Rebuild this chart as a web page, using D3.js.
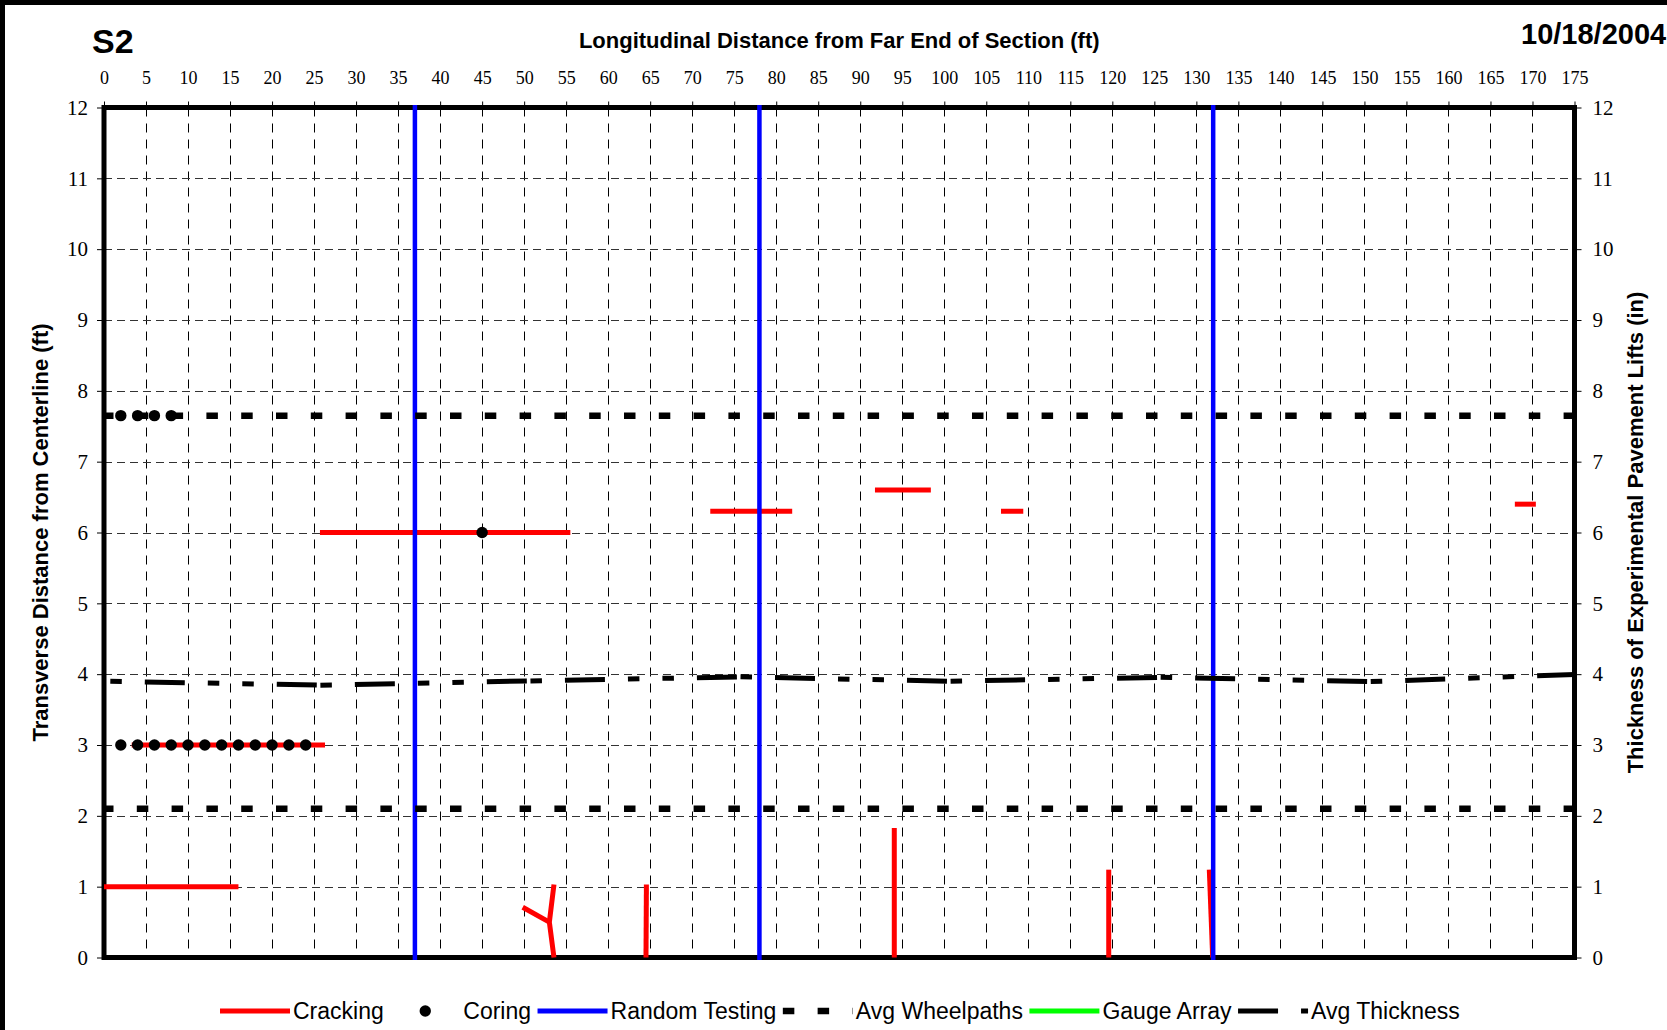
<!DOCTYPE html>
<html>
<head>
<meta charset="utf-8">
<title>S2 distress map</title>
<script src="https://cdn.jsdelivr.net/npm/d3@7"></script>
<style>
  html, body { margin: 0; padding: 0; background: #fff; }
  svg { display: block; }
</style>
</head>
<body>
<svg id="chart" width="1667" height="1030"></svg>
<script>
// ---- data -------------------------------------------------------------
const sectionName = "S2";
const surveyDate = "10/18/2004";

const xTickValues = [0, 5, 10, 15, 20, 25, 30, 35, 40, 45, 50, 55, 60, 65, 70, 75, 80, 85,
  90, 95, 100, 105, 110, 115, 120, 125, 130, 135, 140, 145, 150, 155, 160, 165, 170, 175];
const yTickValues = [0, 1, 2, 3, 4, 5, 6, 7, 8, 9, 10, 11, 12];

// Crack traces: each is a polyline of [longitudinal ft, transverse ft]
const crackLines = [
  [[0, 1], [16, 1]],
  [[3.3, 3], [26.3, 3]],
  [[25.7, 6], [55.5, 6]],
  [[72.15, 6.3], [81.9, 6.3]],
  [[91.75, 6.6], [98.4, 6.6]],
  [[106.75, 6.3], [109.4, 6.3]],
  [[167.9, 6.4], [170.4, 6.4]],
  [[53.55, 1.03], [53.0, 0.5], [53.55, 0]],
  [[49.83, 0.71], [53.0, 0.5]],
  [[64.55, 1.03], [64.5, 0]],
  [[94.05, 1.83], [94.05, 0]],
  [[119.57, 1.24], [119.57, 0]],
  [[131.54, 1.24], [131.94, 0]]
];

// Core locations
const coringX = [2, 4, 6, 8, 2, 4, 6, 8, 10, 12, 14, 16, 18, 20, 22, 24, 45];
const coringY = [7.65, 7.65, 7.65, 7.65, 3, 3, 3, 3, 3, 3, 3, 3, 3, 3, 3, 3, 6];

// Random testing stations (ft)
const randomTestingX = [37, 78, 132];

// Average wheelpath offsets (ft)
const wheelpathY = [7.65, 2.1];

// Gauge array: none installed in this section
const gaugeArrayX = [];
const gaugeArrayY = [];

// Average thickness of the experimental lifts (in), right axis
const thicknessX = [0.75, 25.75, 50.75, 75.75, 100.75, 125.75, 150.75, 175];
const thicknessY = [3.90, 3.845, 3.905, 3.962, 3.90, 3.955, 3.895, 3.995];

const legendLabels = ["Cracking", "Coring", "Random Testing", "Avg Wheelpaths", "Gauge Array", "Avg Thickness"];

// ---- layout -----------------------------------------------------------
const W = 1667, H = 1030;
const plot = { left: 104, right: 1574.5, top: 107.5, bottom: 957.5 };
const sans = "'Liberation Sans', Arial, sans-serif";
const serif = "'Liberation Serif', 'Times New Roman', serif";

const RED = "#ff0000", BLUE = "#0000ff", GREEN = "#00ff00", BLACK = "#000";
const thickDash = "11.5,23,40,23,11.5,23";
const wheelDash = "11.5,23.3";

const svg = d3.select("#chart");

svg.append("rect").attr("width", W).attr("height", H).attr("fill", "#fff");
// dark edge along the top and left of the sheet
svg.append("rect").attr("x", 0).attr("y", 0).attr("width", W).attr("height", 5).attr("fill", BLACK);
svg.append("rect").attr("x", 0).attr("y", 0).attr("width", 5).attr("height", H).attr("fill", BLACK);

const x = d3.scaleLinear().domain([0, 175]).range([plot.left, plot.right]);
const y = d3.scaleLinear().domain([0, 12]).range([plot.bottom, plot.top]);
const y2 = d3.scaleLinear().domain([0, 12]).range([plot.bottom, plot.top]);

// ---- gridlines --------------------------------------------------------
const grid = svg.append("g");
grid.selectAll("line.vg")
  .data(xTickValues.filter(v => v > 0 && v < 175))
  .join("line")
  .attr("x1", d => Math.round(x(d)) + 0.5).attr("x2", d => Math.round(x(d)) + 0.5)
  .attr("y1", plot.top).attr("y2", plot.bottom)
  .attr("stroke", BLACK).attr("stroke-width", 1).attr("stroke-dasharray", "9,7");
grid.selectAll("line.hg")
  .data(yTickValues.filter(v => v > 0 && v < 12))
  .join("line")
  .attr("x1", plot.left).attr("x2", plot.right)
  .attr("y1", d => Math.round(y(d)) + 0.5).attr("y2", d => Math.round(y(d)) + 0.5)
  .attr("stroke", "#333").attr("stroke-width", 1).attr("stroke-dasharray", "8,5");

// ---- axes -------------------------------------------------------------
const topAxis = svg.append("g")
  .attr("transform", `translate(0,${plot.top})`)
  .call(d3.axisTop(x).tickValues(xTickValues).tickSize(6).tickPadding(17.5).tickFormat(d3.format("d")));
topAxis.select(".domain").remove();
topAxis.selectAll("text").attr("font-family", serif).attr("font-size", 18).attr("fill", BLACK);
topAxis.selectAll("line").attr("stroke", BLACK);

const leftAxis = svg.append("g")
  .attr("transform", `translate(${plot.left},0)`)
  .call(d3.axisLeft(y).tickValues(yTickValues).tickSize(7).tickPadding(9).tickFormat(d3.format("d")));
leftAxis.select(".domain").remove();
leftAxis.selectAll("text").attr("font-family", serif).attr("font-size", 21).attr("fill", BLACK);
leftAxis.selectAll("line").attr("stroke", BLACK);

const rightAxis = svg.append("g")
  .attr("transform", `translate(${plot.right},0)`)
  .call(d3.axisRight(y2).tickValues(yTickValues).tickSize(7).tickPadding(11).tickFormat(d3.format("d")));
rightAxis.select(".domain").remove();
rightAxis.selectAll("text").attr("font-family", serif).attr("font-size", 21).attr("fill", BLACK);
rightAxis.selectAll("line").attr("stroke", BLACK);

// plot frame
svg.append("rect")
  .attr("x", plot.left).attr("y", plot.top)
  .attr("width", plot.right - plot.left).attr("height", plot.bottom - plot.top)
  .attr("fill", "none").attr("stroke", BLACK).attr("stroke-width", 5);

// ---- titles -----------------------------------------------------------
svg.append("text").text(sectionName)
  .attr("x", 92).attr("y", 52.5)
  .attr("font-family", sans).attr("font-weight", "bold").attr("font-size", 34);
svg.append("text").text(surveyDate)
  .attr("x", 1521).attr("y", 44)
  .attr("font-family", sans).attr("font-weight", "bold").attr("font-size", 29);
svg.append("text").text("Longitudinal Distance from Far End of Section (ft)")
  .attr("x", (plot.left + plot.right) / 2).attr("y", 48)
  .attr("text-anchor", "middle")
  .attr("font-family", sans).attr("font-weight", "bold").attr("font-size", 22);
svg.append("text").text("Transverse Distance from Centerline (ft)")
  .attr("transform", `translate(48,${(plot.top + plot.bottom) / 2}) rotate(-90)`)
  .attr("text-anchor", "middle")
  .attr("font-family", sans).attr("font-weight", "bold").attr("font-size", 22);
svg.append("text").text("Thickness of Experimental Pavement Lifts (in)")
  .attr("transform", `translate(1643,${(plot.top + plot.bottom) / 2}) rotate(-90)`)
  .attr("text-anchor", "middle")
  .attr("font-family", sans).attr("font-weight", "bold").attr("font-size", 22);

// ---- series -----------------------------------------------------------
const lineGen = d3.line().x(d => x(d[0])).y(d => y(d[1]));

// cracking
svg.append("g").selectAll("path")
  .data(crackLines)
  .join("path")
  .attr("d", lineGen)
  .attr("fill", "none").attr("stroke", RED).attr("stroke-width", 5)
  .attr("stroke-linejoin", "round");

// random testing
svg.append("g").selectAll("line")
  .data(randomTestingX)
  .join("line")
  .attr("x1", d => x(d)).attr("x2", d => x(d))
  .attr("y1", y(12) - 2.5).attr("y2", y(0) + 2.5)
  .attr("stroke", BLUE).attr("stroke-width", 4.5);

// average wheelpaths
svg.append("g").selectAll("line")
  .data(wheelpathY)
  .join("line")
  .attr("x1", x(0) - 2).attr("x2", x(175))
  .attr("y1", d => y(d)).attr("y2", d => y(d))
  .attr("stroke", BLACK).attr("stroke-width", 6.5).attr("stroke-dasharray", wheelDash);

// gauge array
svg.append("g").selectAll("path")
  .data(gaugeArrayX.length ? [d3.zip(gaugeArrayX, gaugeArrayY)] : [])
  .join("path")
  .attr("d", lineGen)
  .attr("fill", "none").attr("stroke", GREEN).attr("stroke-width", 5);

// average thickness: each span between readings carries its own dash run
const thicknessPts = d3.zip(thicknessX, thicknessY);
svg.append("g").selectAll("line")
  .data(d3.pairs(thicknessPts))
  .join("line")
  .attr("x1", d => x(d[0][0])).attr("y1", d => y2(d[0][1]))
  .attr("x2", d => x(d[1][0])).attr("y2", d => y2(d[1][1]))
  .attr("stroke", BLACK).attr("stroke-width", 5).attr("stroke-dasharray", thickDash);

// coring
svg.append("g").selectAll("circle")
  .data(d3.zip(coringX, coringY))
  .join("circle")
  .attr("cx", d => x(d[0])).attr("cy", d => y(d[1])).attr("r", 5.7)
  .attr("fill", BLACK);

// ---- legend -----------------------------------------------------------
const legendY = 1011;
const sampleW = 70;
const legend = svg.append("g");
const swatches = [
  g => g.append("line").attr("x1", 0).attr("x2", sampleW).attr("stroke", RED).attr("stroke-width", 5),
  g => g.append("circle").attr("cx", sampleW / 2).attr("r", 5.7).attr("fill", BLACK),
  g => g.append("line").attr("x1", 0).attr("x2", sampleW).attr("stroke", BLUE).attr("stroke-width", 5),
  g => g.append("line").attr("x1", 0).attr("x2", sampleW).attr("stroke", BLACK).attr("stroke-width", 6.5).attr("stroke-dasharray", wheelDash),
  g => g.append("line").attr("x1", 0).attr("x2", sampleW).attr("stroke", GREEN).attr("stroke-width", 5),
  g => g.append("line").attr("x1", 0).attr("x2", sampleW).attr("stroke", BLACK).attr("stroke-width", 5).attr("stroke-dasharray", "40,23,11.5,23")
];
let cursor = 220;
legendLabels.forEach((label, i) => {
  const item = legend.append("g").attr("transform", `translate(${cursor},${legendY})`);
  swatches[i](item);
  const t = item.append("text").text(label)
    .attr("x", sampleW + 3).attr("dy", "0.35em")
    .attr("font-family", sans).attr("font-size", 23).attr("fill", BLACK);
  cursor += sampleW + 3 + t.node().getComputedTextLength() + 6.5;
});
</script>
</body>
</html>
